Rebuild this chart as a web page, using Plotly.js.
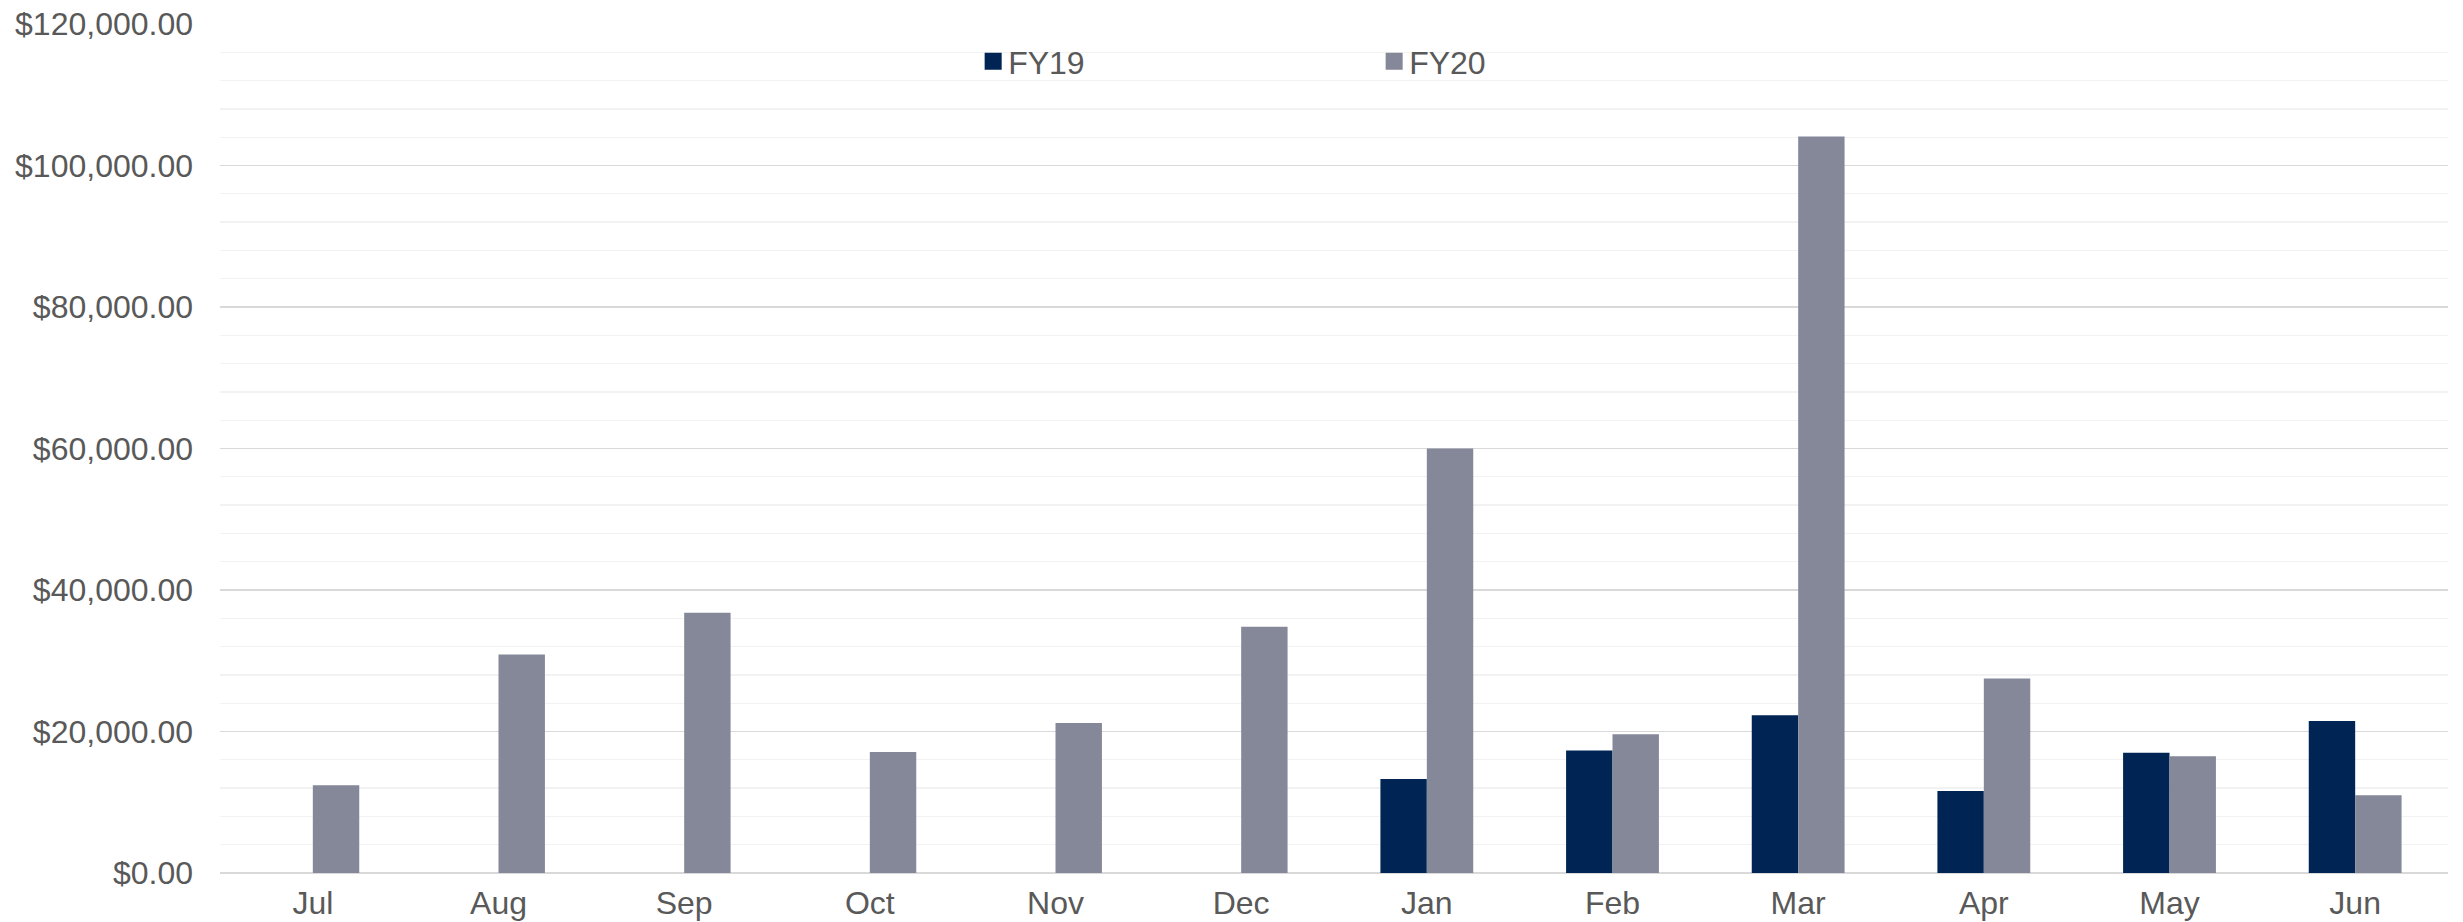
<!DOCTYPE html>
<html>
<head>
<meta charset="utf-8">
<script src="https://cdn.plot.ly/plotly-3.0.1.min.js"></script>
<style>html,body{margin:0;padding:0;background:#fff;}#chart{width:2463px;height:922px;}</style>
</head>
<body>
<div id="chart"></div>
<script>
const months = ["Jul","Aug","Sep","Oct","Nov","Dec","Jan","Feb","Mar","Apr","May","Jun"];
const fy19 = [0, 0, 0, 0, 0, 0, 13300, 17300, 22300, 11600, 17000, 21500];
const fy20 = [12400, 30900, 36800, 17100, 21200, 34800, 60000, 19600, 104100, 27500, 16500, 11000];
const seriesNames = ["FY19", "FY20"];
const seriesColors = ["#002554", "#858899"];

const traces = [
  {type: "bar", name: seriesNames[0], x: months, y: fy19, marker: {color: seriesColors[0]}, hoverinfo: "x+y"},
  {type: "bar", name: seriesNames[1], x: months, y: fy20, marker: {color: seriesColors[1]}, hoverinfo: "x+y"}
];

const layout = {
  width: 2463, height: 922,
  margin: {l: 220, r: 15, t: 23.5, b: 49, pad: 0},
  paper_bgcolor: "#ffffff", plot_bgcolor: "#ffffff",
  font: {family: "Liberation Sans, Arial, sans-serif", size: 32, color: "#595959"},
  barmode: "group", bargap: 0.5, bargroupgap: 0,
  showlegend: true,
  legend: {
    orientation: "h", x: 0.3358, xanchor: "left", y: 0.956, yanchor: "middle",
    font: {size: 32, color: "#595959"}, entrywidth: 356, bgcolor: "rgba(0,0,0,0)",
    traceorder: "normal"
  },
  xaxis: {
    type: "category", showgrid: false, showline: false, zeroline: false,
    ticks: "", ticklabelstandoff: 8, tickfont: {size: 32, color: "#595959"}
  },
  yaxis: {
    range: [0, 120000], dtick: 20000, tick0: 0,
    tickprefix: "$", tickformat: ",.2f",
    showgrid: true, gridcolor: "#d9d9d9", gridwidth: 1.6,
    zeroline: true, zerolinecolor: "#d9d9d9", zerolinewidth: 1.6,
    showline: false, ticks: "", ticklabelstandoff: 26,
    tickfont: {size: 32, color: "#595959"},
    minor: {dtick: 4000, tick0: 0, showgrid: true, gridcolor: "#f2f2f2", gridwidth: 1.3, ticks: ""}
  }
};

Plotly.newPlot("chart", traces, layout, {displayModeBar: false, staticPlot: true}).then(function (gd) {
  gd.querySelectorAll(".legend .legendpoints path").forEach(function (el) {
    const t = el.getAttribute("transform") || "";
    el.setAttribute("transform", t + " translate(5,0) scale(1.42)");
  });
});
</script>
</body>
</html>
